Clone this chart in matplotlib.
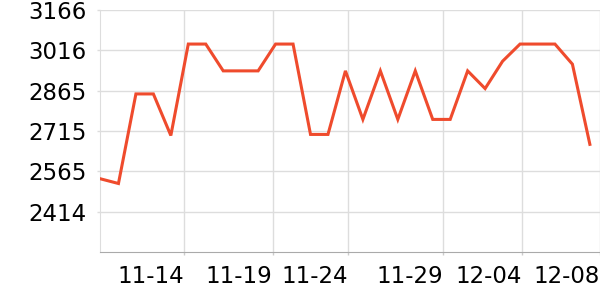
import matplotlib
matplotlib.use("Agg")
import matplotlib.pyplot as plt

values = [2536, 2519, 2853, 2853, 2698, 3039, 3039, 2939, 2939, 2939,
          3039, 3039, 2702, 2702, 2939, 2758, 2939, 2758, 2939, 2758,
          2758, 2939, 2873, 2975, 3039, 3039, 3039, 2964, 2665]
y_ticks = [2414, 2565, 2715, 2865, 3016, 3166]
x_tick_labels = ["11-14", "11-19", "11-24", "11-29", "12-04", "12-08"]
x_tick_pos = [4.75, 9.83, 14.13, 19.6, 24.13, 28.58]

x = list(range(len(values)))

fig = plt.figure(figsize=(6, 3), dpi=100)
ax = fig.add_axes([100/600, 1 - 252/300, 500/600, 242/300])

ax.plot(x, values, color="#EF4B2D", lw=2.2, solid_joinstyle="miter", zorder=3)

ax.set_xlim(-0.057, 28.58)
ax.set_ylim(2263.6, 3166)
ax.set_yticks(y_ticks)
ax.set_yticklabels([str(v) for v in y_ticks])
ax.set_xticks(x_tick_pos)
ax.set_xticklabels(x_tick_labels, ha="right")

ax.grid(True, color="#dddddd", lw=1)
for s in ["top", "right"]:
    ax.spines[s].set_visible(False)
ax.spines["left"].set_color("#dddddd")
ax.spines["bottom"].set_color("#aaaaaa")
ax.tick_params(axis="y", length=2.2, width=1, color="#dddddd", pad=7.5, labelsize=16.5)
ax.tick_params(axis="x", length=2.2, width=1, color="#cccccc", pad=7.2, labelsize=16.5)
for lbl in ax.get_xticklabels():
    lbl.set_horizontalalignment("right")

fig.savefig("out.png", dpi=100)
